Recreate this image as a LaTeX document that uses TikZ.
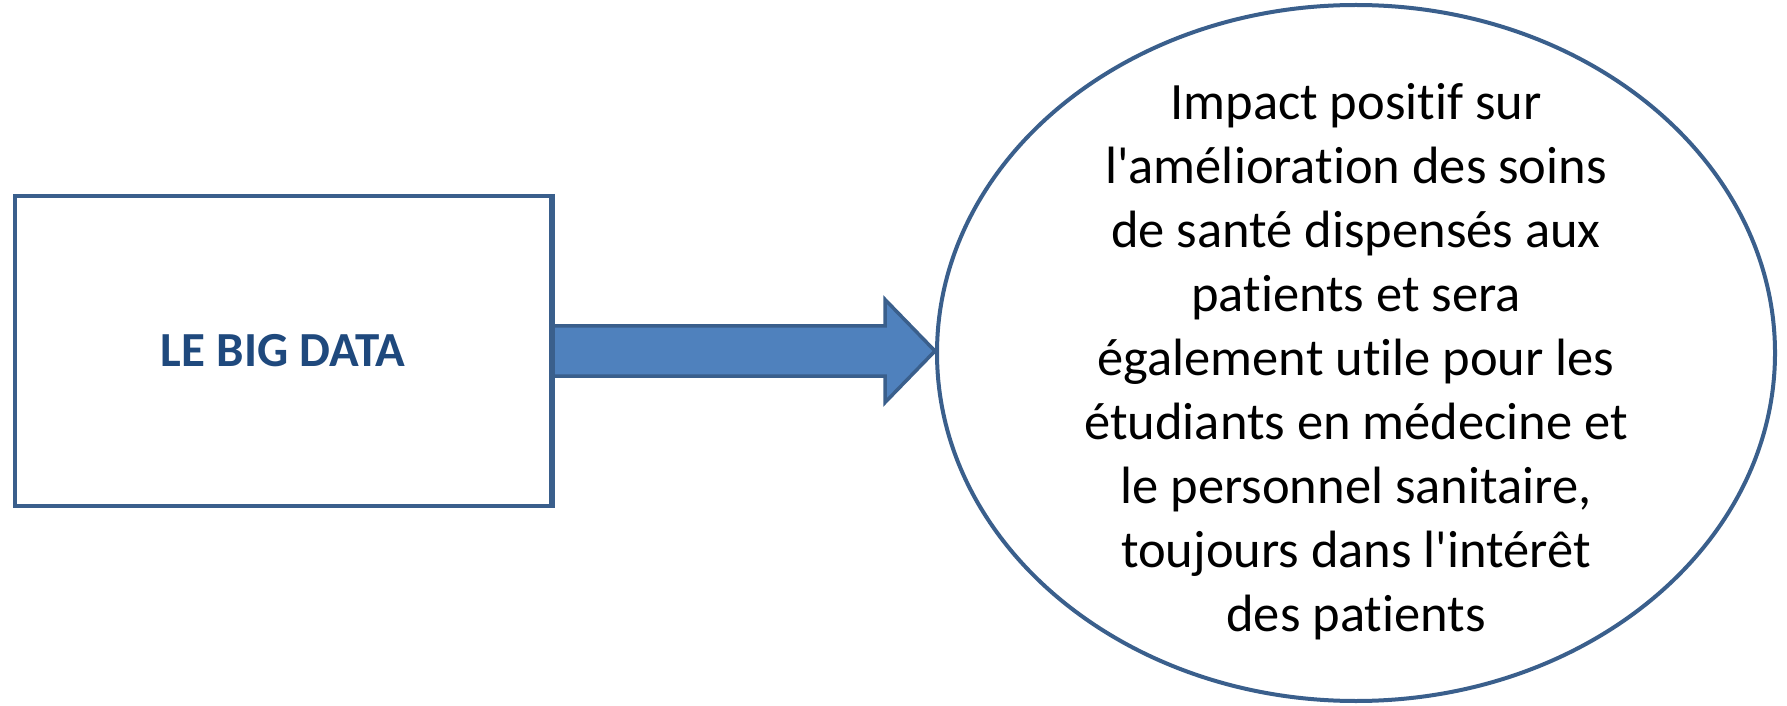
\documentclass[tikz,border=0pt]{standalone}
\usepackage{fontspec}
\setmainfont{Carlito}
\newfontfamily\calib{Carlito}[Ligatures=NoCommon]
\usetikzlibrary{shapes.geometric,calc}
\definecolor{edgeblue}{HTML}{3A5F8C}
\definecolor{fillblue}{HTML}{4F81BD}
\definecolor{txtblue}{HTML}{1F497D}
\tikzset{
  boxsty/.style={draw=edgeblue, line width=4pt, fill=white, minimum width=536pt, minimum height=310pt, inner sep=0pt, text=txtblue, font=\calib\fontsize{49}{56}\selectfont\bfseries},
  ellsty/.style={ellipse, draw=edgeblue, line width=4pt, fill=white, minimum width=838pt, minimum height=696pt, inner sep=0pt},
  elltext/.style={align=center, inner sep=0pt, font=\calib\fontsize{52.5}{64}\selectfont},
  arrowsty/.style={draw=edgeblue, line width=3.5pt, fill=fillblue, line join=miter}
}
\begin{document}
\begin{tikzpicture}[x=1pt,y=1pt]
\useasboundingbox (0,0) rectangle (1787,705);
\node[ellsty] (ell) at (1356,352) {};
\node[elltext] (etxt) at ($(ell.center)+(0,-9)$) {Impact positif sur\\l'amélioration des soins\\de santé dispensés aux\\patients et sera\\également utile pour les\\étudiants en médecine et\\le personnel sanitaire,\\toujours dans l'intérêt\\des patients};
\node[boxsty] (big) at (283,354) {LE BIG DATA};
\coordinate (tip) at (big.east -| ell.west);
\draw[arrowsty] ($(big.east)+(0,25)$) -- ($(tip)+(-50,25)$) -- ($(tip)+(-50,51.5)$) -- (tip) -- ($(tip)+(-50,-51.5)$) -- ($(tip)+(-50,-25)$) -- ($(big.east)+(0,-25)$) -- cycle;
\draw[draw=edgeblue, line width=4pt] (big.north east) -- (big.south east);
\end{tikzpicture}
\end{document}
